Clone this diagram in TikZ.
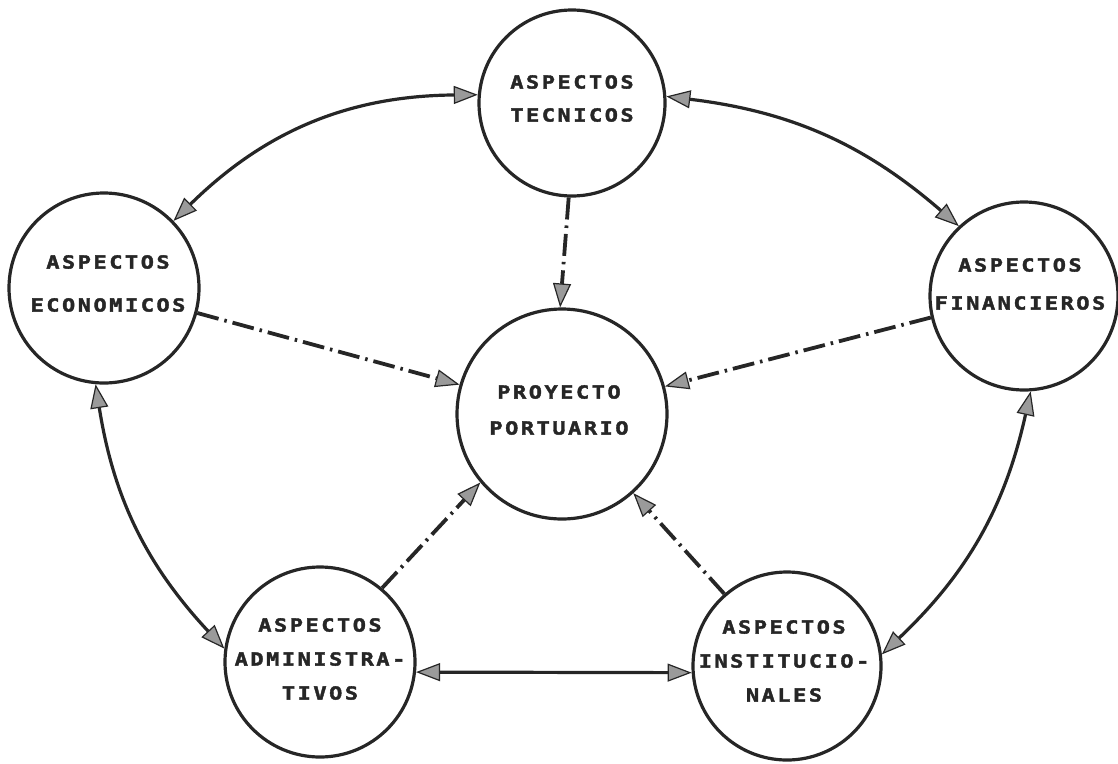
\documentclass[tikz,border=0pt]{standalone}
\usepackage{fontspec}
\newfontfamily\lblfont{DejaVu Sans Mono Bold}[FakeStretch=1.22, FakeBold=2.2, LetterSpace=14]
\usetikzlibrary{arrows.meta}
\definecolor{ink}{HTML}{262626}
\definecolor{tipgray}{HTML}{9A9A9A}

\begin{document}
\begin{tikzpicture}[x=1pt,y=-1pt,
  aspect/.style={circle, draw=ink, line width=3.2pt, inner sep=0pt},
  caption/.style={align=center, text=ink, inner sep=0pt,
    font=\lblfont\fontsize{18}{#1}\selectfont},
  head/.tip={Triangle[length=24pt,width=18pt,fill=tipgray,line width=1.2pt]},
  link/.style={draw=ink, line width=3.2pt, head-head},
  feed/.style={draw=ink, line width=3.8pt,
    dash pattern=on 22pt off 6pt on 2.5pt off 6pt, -head}
]
\useasboundingbox (0,0) rectangle (1118,763);

% the six aspects of the port project
\node[aspect, minimum size=186pt] (tec) at (572,103) {};
\node[aspect, minimum size=190pt] (eco) at (104,288) {};
\node[aspect, minimum size=188pt] (fin) at (1024,296) {};
\node[aspect, minimum size=210pt] (pro) at (562,414) {};
\node[aspect, minimum size=190pt] (adm) at (320,662) {};
\node[aspect, minimum size=188pt] (ins) at (787,666) {};

% their titles
\node[caption=33] (tecT) at (572,98.5) {ASPECTOS\\TECNICOS};
\node[caption=43] (ecoT) at (108,283.5) {ASPECTOS\\ECONOMICOS};
\node[caption=38] (finT) at (1020,284) {ASPECTOS\\FINANCIEROS};
\node[caption=36] (proT) at (559,410) {PROYECTO\\PORTUARIO};
\node[caption=34] (admT) at (320,659) {ASPECTOS\\ADMINISTRA-\\TIVOS};
\node[caption=34] (insT) at (784,661) {ASPECTOS\\INSTITUCIO-\\NALES};

% mutual relations around the ring
\draw[link] (eco.44) to[bend left=22] (tec.175);
\draw[link] (tec.4) to[bend left=17] (fin.133);
\draw[link] (eco.265) to[bend right=17] (adm.172);
\draw[link] (fin.274) to[bend left=17] (ins.7);
\draw[link] (adm.-6) -- (ins.184);

% contributions to the central project
\draw[feed] (tec.-92) -- (pro.91);
\draw[feed] (eco.-15) -- (pro.164);
\draw[feed] (fin.193) -- (pro.15);
\draw[feed] (adm.50) -- (pro.220);
\draw[feed] (ins.131) -- (pro.-48);
\end{tikzpicture}
\end{document}
